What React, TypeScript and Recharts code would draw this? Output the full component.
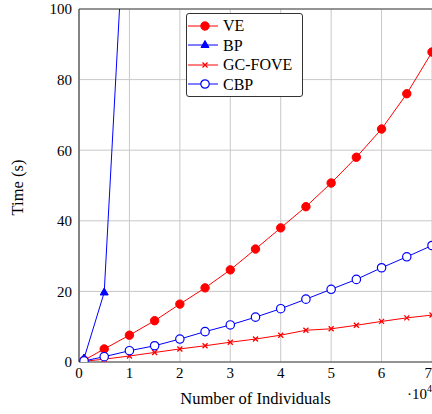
import React from "react";
import { LineChart, Line, XAxis, YAxis, CartesianGrid, ReferenceLine, Label } from "recharts";

// x in units of 10^4 individuals
const individuals = [0.1, 0.5, 1, 1.5, 2, 2.5, 3, 3.5, 4, 4.5, 5, 5.5, 6, 6.5, 7];
const veTimes = [0.5, 3.7, 7.6, 11.7, 16.4, 21, 26.1, 32, 38, 44, 50.7, 58, 66, 76, 87.8];
const bpTimes = [1, 19.7, 152];
const gcFoveTimes = [0.2, 0.8, 1.7, 2.7, 3.7, 4.6, 5.6, 6.5, 7.6, 9.0, 9.4, 10.4, 11.5, 12.5, 13.3];
const cbpTimes = [0.3, 1.5, 3.2, 4.6, 6.5, 8.6, 10.5, 12.7, 15.1, 17.8, 20.6, 23.4, 26.7, 29.8, 33];

const xTicks = [0, 1, 2, 3, 4, 5, 6, 7];
const yTicks = [0, 20, 40, 60, 80, 100];

const RED = "#ff0000";
const BLUE = "#0000ff";
const FONT = "'Liberation Serif', serif";

const data = individuals.map((x, i) => ({
  x,
  ve: veTimes[i],
  bp: i < bpTimes.length ? bpTimes[i] : null,
  gc: gcFoveTimes[i],
  cbp: cbpTimes[i],
}));

type Shape = "circle" | "triangle" | "cross" | "ocircle";

function Marker({ cx, cy, shape, color }: { cx: number; cy: number; shape: Shape; color: string }) {
  if (cx == null || cy == null || Number.isNaN(cy)) return null;
  if (shape === "circle") return <circle cx={cx} cy={cy} r={4.2} fill={color} stroke={color} />;
  if (shape === "ocircle") return <circle cx={cx} cy={cy} r={4.2} fill="white" stroke={color} strokeWidth={1.2} />;
  if (shape === "triangle")
    return <path d={`M${cx},${cy - 4.5} L${cx + 4},${cy + 2.5} L${cx - 4},${cy + 2.5} Z`} fill={color} stroke={color} />;
  return (
    <path
      d={`M${cx - 2.5},${cy - 2.5} L${cx + 2.5},${cy + 2.5} M${cx - 2.5},${cy + 2.5} L${cx + 2.5},${cy - 2.5}`}
      stroke={color}
      strokeWidth={1.3}
    />
  );
}

const series = [
  { key: "ve", name: "VE", color: RED, shape: "circle" as Shape },
  { key: "bp", name: "BP", color: BLUE, shape: "triangle" as Shape },
  { key: "gc", name: "GC-FOVE", color: RED, shape: "cross" as Shape },
  { key: "cbp", name: "CBP", color: BLUE, shape: "ocircle" as Shape },
];

function LegendBox() {
  return (
    <div
      style={{
        position: "absolute",
        left: 186,
        top: 13,
        border: "1px solid #333",
        borderRadius: 3,
        background: "white",
        width: 117,
        height: 84,
        boxSizing: "border-box",
        paddingTop: 2,
      }}
    >
      {series.map((s) => (
        <div key={s.key} style={{ display: "flex", alignItems: "center", height: 19.5 }}>
          <svg width={36} height={14} style={{ display: "block" }}>
            <line x1={1} x2={31} y1={7} y2={7} stroke={s.color} strokeWidth={1} />
            <Marker cx={18} cy={7} shape={s.shape} color={s.color} />
          </svg>
          <span style={{ fontFamily: FONT, fontSize: 16, color: "#000", lineHeight: "19px" }}>{s.name}</span>
        </div>
      ))}
    </div>
  );
}

export default function App() {
  return (
    <div style={{ position: "absolute", left: 0, top: 0, width: 432, height: 414, background: "white", overflow: "hidden" }}>
      <LineChart width={432} height={414} data={data} margin={{ top: 9, right: 0, bottom: 0, left: 0 }}>
        <CartesianGrid stroke="#c8c8c8" strokeWidth={1} />
        <XAxis
          dataKey="x"
          type="number"
          domain={[0, 7]}
          ticks={xTicks}
          allowDataOverflow
          height={52}
          tickLine={false}
          tickSize={0}
          tickMargin={5}
          axisLine={{ stroke: "#444", strokeWidth: 1.2 }}
          tick={{ fill: "#000", fontSize: 15, fontFamily: FONT }}
        >
          <Label
            content={({ viewBox }: any) => {
              const { x, y, width } = viewBox;
              return (
                <g fontFamily={FONT} fill="#000">
                  <text x={x + width / 2} y={y + 42} textAnchor="middle" fontSize={16.5}>
                    Number of Individuals
                  </text>
                  <text x={x + width} y={y + 37} textAnchor="end" fontSize={15}>
                    ·10
                    <tspan fontSize={10} dy={-7}>4</tspan>
                  </text>
                </g>
              );
            }}
          />
        </XAxis>
        <YAxis
          type="number"
          domain={[0, 100]}
          ticks={yTicks}
          allowDataOverflow
          width={79}
          tickLine={false}
          tickSize={0}
          tickMargin={7}
          axisLine={{ stroke: "#444", strokeWidth: 1.2 }}
          tick={{ fill: "#000", fontSize: 15, fontFamily: FONT }}
        >
          <Label
            content={({ viewBox }: any) => {
              const { y, height } = viewBox;
              const cy = y + height / 2 + 2;
              return (
                <text
                  x={23}
                  y={cy}
                  transform={`rotate(-90, 23, ${cy})`}
                  textAnchor="middle"
                  fontFamily={FONT}
                  fontSize={16.5}
                  fill="#000"
                >
                  Time (s)
                </text>
              );
            }}
          />
        </YAxis>
        <ReferenceLine y={100} stroke="#444" strokeWidth={1.2} />
        {series.map((s) => (
          <Line
            key={s.key}
            dataKey={s.key}
            name={s.name}
            type="linear"
            stroke={s.color}
            strokeWidth={1}
            isAnimationActive={false}
            dot={(p: any) => <Marker key={`${s.key}-${p.index}`} cx={p.cx} cy={p.cy} shape={s.shape} color={s.color} />}
            activeDot={false}
          />
        ))}
      </LineChart>
      <LegendBox />
    </div>
  );
}
